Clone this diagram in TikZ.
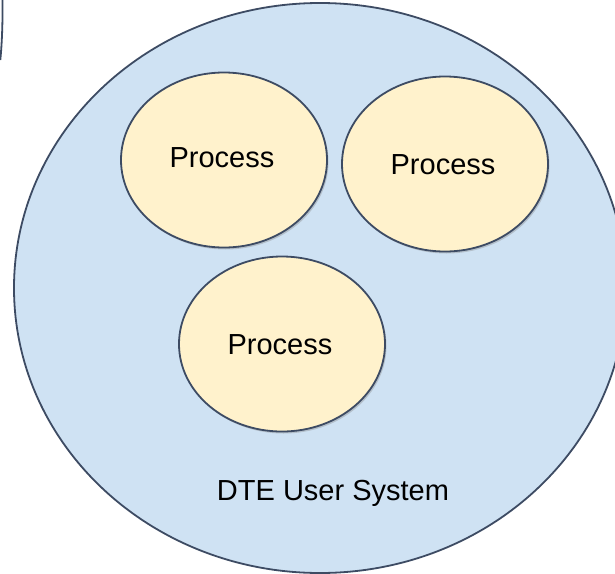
\documentclass[tikz,border=0pt]{standalone}
\usepackage{fontspec}
\setmainfont{Liberation Sans}
\usetikzlibrary{shapes.geometric,shadows}
\definecolor{edgec}{HTML}{3D4B63}
\definecolor{sysfill}{HTML}{CFE2F3}
\definecolor{procfill}{HTML}{FFF2CC}
\tikzset{
  sysell/.style={ellipse, draw=edgec, line width=1.8pt, fill=sysfill, minimum width=612pt, minimum height=570pt, inner sep=0pt},
  procell/.style={ellipse, draw=edgec, line width=1.8pt, fill=procfill, minimum width=206pt, minimum height=175pt, inner sep=0pt,
    drop shadow={shadow xshift=1.5pt, shadow yshift=-2pt, opacity=0.35, fill=gray}},
  lbl/.style={font=\fontsize{29}{34}\selectfont, text=black, inner sep=0pt}
}
\begin{document}
\begin{tikzpicture}[x=1pt,y=1pt]
\useasboundingbox (0,0) rectangle (615,-573);
\clip (0,0) rectangle (615,-573);
\fill[white] (0,0) rectangle (615,-573);
\draw[edgec, line width=1.8pt] (2.5,2) .. controls (2.8,-25) and (1.8,-45) .. (0.3,-60);
\node[sysell] (sys) at (320,-288) {};
\node[procell] (p1) at (224,-160) {};
\node[procell] (p2) at (445,-164) {};
\node[procell] (p3) at (282,-344) {};
\node[lbl] (t1) at (222,-158) {Process};
\node[lbl] (t2) at (443,-165) {Process};
\node[lbl] (t3) at (280,-345) {Process};
\node[lbl] (ts) at (333,-493) {DTE User System};
\end{tikzpicture}
\end{document}
